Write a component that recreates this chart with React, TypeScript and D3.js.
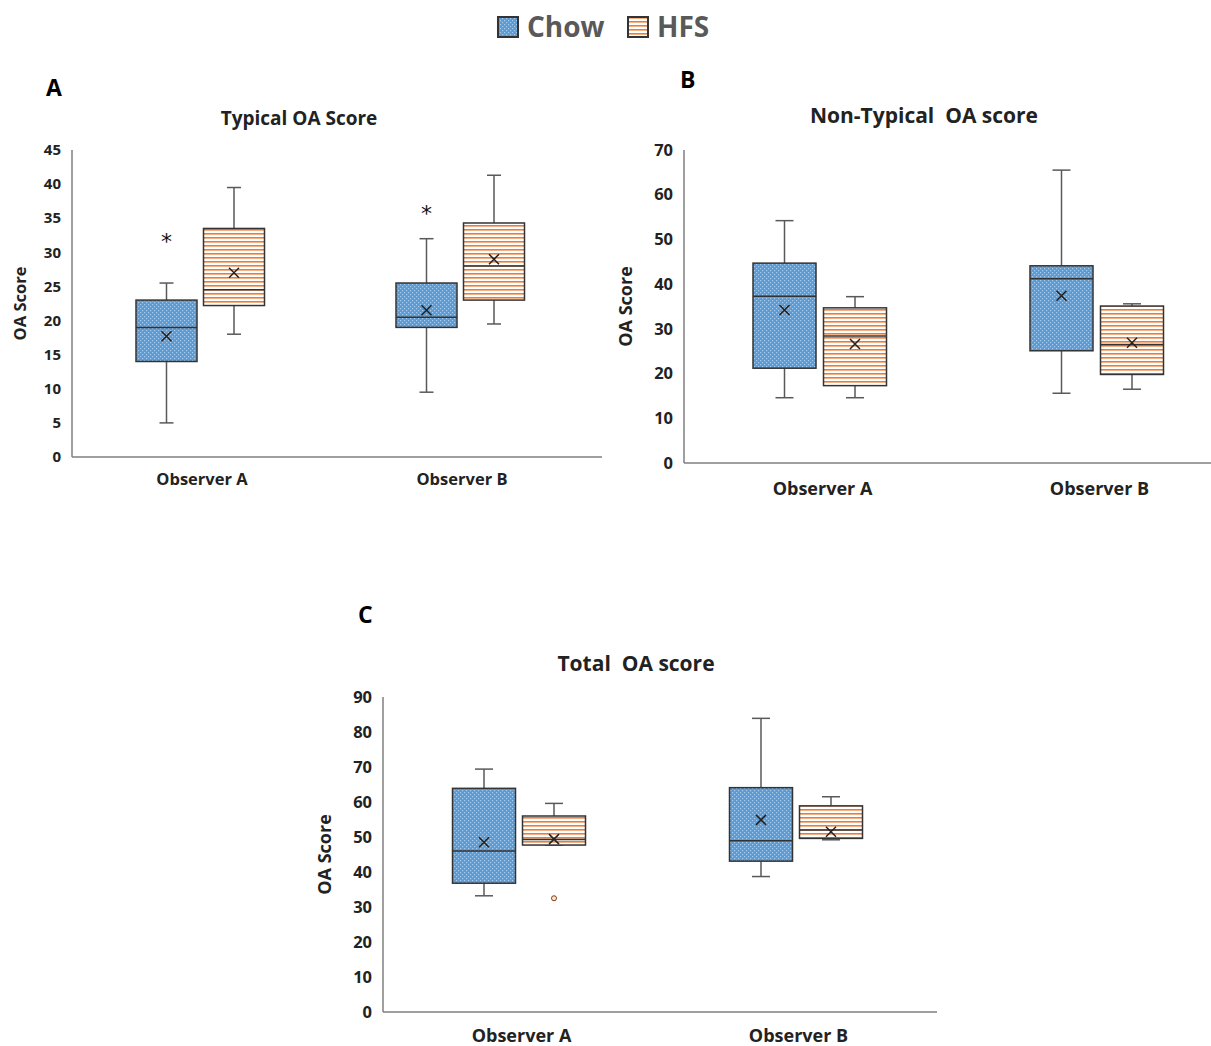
import React from "react";
import * as d3 from "d3";

// categories and series
const categories = ["Observer A", "Observer B"];
const series = ["Chow", "HFS"];

// box stats: [whiskerLow, q1, median, q3, whiskerHigh, mean]
const typicalChow = [
  [5, 14, 19, 23, 25.5, 17.7],
  [9.5, 19, 20.5, 25.5, 32, 21.5],
];
const typicalHFS = [
  [18, 22.2, 24.5, 33.5, 39.5, 27],
  [19.5, 23, 28, 34.3, 41.3, 29],
];
const typicalStars = [32.3, 36.4]; // asterisks above Chow boxes

const nonTypicalChow = [
  [14.6, 21.2, 37.3, 44.7, 54.2, 34.2],
  [15.6, 25.1, 41.2, 44.1, 65.5, 37.4],
];
const nonTypicalHFS = [
  [14.6, 17.3, 28.4, 34.7, 37.2, 26.6],
  [16.5, 19.8, 26.5, 35.1, 35.6, 26.9],
];

const totalChow = [
  [33.2, 36.8, 46, 63.9, 69.4, 48.5],
  [38.7, 43.1, 48.9, 64.1, 83.9, 54.9],
];
const totalHFS = [
  [47.7, 47.7, 49.3, 56, 59.6, 49.4],
  [49.2, 49.6, 52, 58.9, 61.5, 51.5],
];
const totalOutliersHFS = [[32.5], []];

const FONT = "'Open Sans', 'Noto Sans', sans-serif";

function BoxPanel(props) {
  const {
    x0, bw, yTop, yBottom, yMax, step, axisEnd, chow, hfs, boxW, capW,
    offsets, title, titleX, titleY, titleSize, letter, letterX, letterY,
    tickSize, labelSize, catSize, catY, yLabelX, stars, outliers,
  } = props;

  const x = d3.scaleBand().domain(categories).range([x0, x0 + bw * 2]);
  const off = d3.scalePoint().domain(series).range(offsets);
  const y = d3.scaleLinear().domain([0, yMax]).range([yBottom, yTop]);
  const ticks = d3.range(0, yMax + 0.001, step);

  const drawBox = (s, i, name) => {
    const cx = x(categories[i]) + x.bandwidth() / 2 + off(name);
    const [lo, q1, med, q3, hi, mean] = s;
    const fill = name === "Chow" ? "url(#chowPat)" : "url(#hfsPat)";
    const m = 5;
    return (
      <g key={name + i}>
        <line x1={cx} x2={cx} y1={y(hi)} y2={y(q3)} stroke="#595959" strokeWidth={1.5} />
        <line x1={cx} x2={cx} y1={y(q1)} y2={y(lo)} stroke="#595959" strokeWidth={1.5} />
        <line x1={cx - capW / 2} x2={cx + capW / 2} y1={y(hi)} y2={y(hi)} stroke="#595959" strokeWidth={1.5} />
        <line x1={cx - capW / 2} x2={cx + capW / 2} y1={y(lo)} y2={y(lo)} stroke="#595959" strokeWidth={1.5} />
        <rect x={cx - boxW / 2} y={y(q3)} width={boxW} height={y(q1) - y(q3)} fill={fill} stroke="#333" strokeWidth={1.5} />
        <line x1={cx - boxW / 2} x2={cx + boxW / 2} y1={y(med)} y2={y(med)} stroke="#333" strokeWidth={1.5} />
        <path
          d={`M${cx - m},${y(mean) - m}L${cx + m},${y(mean) + m}M${cx - m},${y(mean) + m}L${cx + m},${y(mean) - m}`}
          stroke="#222"
          strokeWidth={1.5}
        />
      </g>
    );
  };

  return (
    <g fontFamily={FONT}>
      <text x={letterX} y={letterY} fontSize={23} fontWeight="bold" fill="#000">{letter}</text>
      <text x={titleX} y={titleY} fontSize={titleSize} fontWeight="bold" textAnchor="middle" fill="#222" style={{ whiteSpace: "pre" }}>
        {title}
      </text>
      {ticks.map((t) => (
        <text key={t} x={x0 - 11} y={y(t)} dy="0.35em" fontSize={tickSize} fontWeight="bold" textAnchor="end" fill="#222">
          {t}
        </text>
      ))}
      <text
        transform={`translate(${yLabelX},${(yTop + yBottom) / 2}) rotate(-90)`}
        fontSize={labelSize}
        fontWeight="bold"
        textAnchor="middle"
        dy="0.35em"
        fill="#222"
      >
        OA Score
      </text>
      <line x1={x0} x2={x0} y1={yTop} y2={yBottom} stroke="#7f7f7f" strokeWidth={1.5} />
      <line x1={x0} x2={axisEnd} y1={yBottom} y2={yBottom} stroke="#7f7f7f" strokeWidth={1.5} />
      {categories.map((c) => (
        <text key={c} x={x(c) + x.bandwidth() / 2} y={catY} fontSize={catSize} fontWeight="bold" textAnchor="middle" fill="#222">
          {c}
        </text>
      ))}
      {chow.map((s, i) => drawBox(s, i, "Chow"))}
      {hfs.map((s, i) => drawBox(s, i, "HFS"))}
      {stars &&
        stars.map((v, i) => (
          <text
            key={"st" + i}
            x={x(categories[i]) + x.bandwidth() / 2 + off("Chow")}
            y={y(v)}
            dy="0.55em"
            fontSize={22}
            fontFamily="'DejaVu Sans', sans-serif"
            textAnchor="middle"
            fill="#111"
          >
            *
          </text>
        ))}
      {outliers &&
        outliers.map((arr, i) =>
          arr.map((v, j) => (
            <circle key={"o" + i + j} cx={x(categories[i]) + x.bandwidth() / 2 + off("HFS")} cy={y(v)} r={2.5} fill="#fbe5d6" stroke="#843c0c" strokeWidth={1} />
          ))
        )}
    </g>
  );
}

export default function App() {
  return (
    <svg width={1211} height={1046} style={{ position: "absolute", left: 0, top: 0, background: "#fff" }}>
      <defs>
        <pattern id="chowPat" width={4} height={4} patternUnits="userSpaceOnUse">
          <rect width={4} height={4} fill="#5b9bd5" />
          <rect x={0} y={0} width={1.2} height={1.2} fill="#a9cbec" />
          <rect x={2} y={2} width={1.2} height={1.2} fill="#a9cbec" />
        </pattern>
        <pattern id="hfsPat" width={4} height={4} patternUnits="userSpaceOnUse">
          <rect width={4} height={4} fill="#fff" />
          <rect x={0} y={1} width={4} height={1.6} fill="#ed7d31" />
        </pattern>
      </defs>

      {/* legend */}
      <g fontFamily={FONT} fontWeight="bold" fontSize={28} fill="#595959">
        <rect x={498} y={17} width={20} height={20} fill="url(#chowPat)" stroke="#333" strokeWidth={2} />
        <text x={527} y={37}>{series[0]}</text>
        <rect x={628} y={17} width={20} height={20} fill="url(#hfsPat)" stroke="#333" strokeWidth={2} />
        <text x={657} y={37}>{series[1]}</text>
      </g>

      <BoxPanel
        x0={72} bw={260} yTop={150} yBottom={457} yMax={45} step={5} axisEnd={602}
        chow={typicalChow} hfs={typicalHFS} boxW={61} capW={14} offsets={[-35.5, 32]}
        title="Typical OA Score" titleX={299} titleY={125} titleSize={19}
        letter="A" letterX={46} letterY={96} tickSize={15} labelSize={16.5} catSize={16.5} catY={485} yLabelX={20}
        stars={typicalStars}
      />
      <BoxPanel
        x0={684} bw={277} yTop={150} yBottom={463} yMax={70} step={10} axisEnd={1211}
        chow={nonTypicalChow} hfs={nonTypicalHFS} boxW={63} capW={18} offsets={[-38, 32.5]}
        title="Non-Typical  OA score" titleX={924} titleY={123} titleSize={21}
        letter="B" letterX={680} letterY={88} tickSize={16.5} labelSize={18} catSize={18} catY={495} yLabelX={626}
      />
      <BoxPanel
        x0={383} bw={277} yTop={697} yBottom={1012} yMax={90} step={10} axisEnd={937}
        chow={totalChow} hfs={totalHFS} boxW={63} capW={18} offsets={[-37.5, 32.5]}
        title="Total  OA score" titleX={636} titleY={671} titleSize={21}
        letter="C" letterX={358} letterY={623} tickSize={16.5} labelSize={18} catSize={18} catY={1042} yLabelX={325}
        outliers={totalOutliersHFS}
      />
    </svg>
  );
}
